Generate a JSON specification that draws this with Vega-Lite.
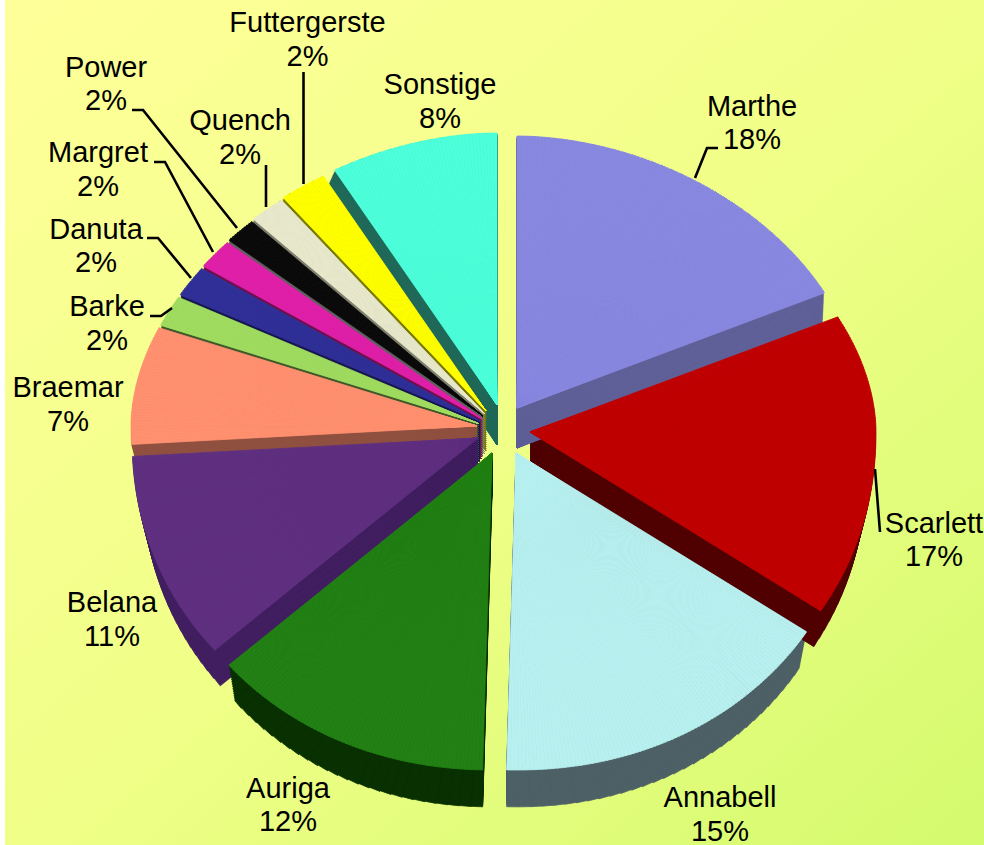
{
"$schema":"https://vega.github.io/schema/vega-lite/v6.json",
"width":979,"height":845,
"autosize":"none",
"padding":{"left":5,"top":0,"right":0,"bottom":0},
"background":"white",
"view":{"stroke":null,"fill":{"gradient":"linear","x1":0,"y1":0,"x2":1,"y2":1,"stops":[{"offset":0,"color":"#ffff99"},{"offset":0.5,"color":"#f0ff88"},{"offset":1,"color":"#d4fa6e"}]}},
"params":[{"name":"geom","value":{
"Marthe":{"x":517,"y":408,"lx":752,"ly":115.5,"leader":[[695,178],[707,148],[718,148]]},
"Scarlett":{"x":530,"y":432,"lx":934,"ly":532.5,"leader":[[875,469],[880,532]]},
"Annabell":{"x":516,"y":453,"lx":720,"ly":807,"leader":[]},
"Auriga":{"x":492,"y":453,"lx":288,"ly":797.5,"leader":[]},
"Belana":{"x":478,"y":438,"lx":112,"ly":612,"leader":[]},
"Braemar":{"x":477,"y":426,"lx":68,"ly":397,"leader":[]},
"Barke":{"x":478.5,"y":423.5,"lx":107,"ly":316,"leader":[[150,316],[161,316],[172,308]]},
"Danuta":{"x":480,"y":421,"lx":96,"ly":238.5,"leader":[[147,238],[158,238],[191,278]]},
"Margret":{"x":481.5,"y":418.5,"lx":98,"ly":162,"leader":[[154,162],[165,162],[213,252]]},
"Power":{"x":483,"y":416,"lx":106,"ly":76.5,"leader":[[132,110],[143,110],[237,228]]},
"Quench":{"x":484.5,"y":413.5,"lx":240,"ly":130,"leader":[[266,165],[266,207]]},
"Futtergerste":{"x":486,"y":411,"lx":307.5,"ly":32,"leader":[[303.5,72],[303.5,184]]},
"Sonstige":{"x":497,"y":405,"lx":440,"ly":94,"leader":[]}
}}],
"data":{"values":[
{"name":"Marthe","share":18},
{"name":"Scarlett","share":17},
{"name":"Annabell","share":15.4},
{"name":"Auriga","share":12.49},
{"name":"Belana","share":11.11},
{"name":"Braemar","share":6.9},
{"name":"Barke","share":1.85},
{"name":"Danuta","share":1.85},
{"name":"Margret","share":1.8},
{"name":"Power","share":1.55},
{"name":"Quench","share":1.75},
{"name":"Futtergerste","share":2.3},
{"name":"Sonstige","share":8}
]},
"transform":[
{"window":[{"op":"sum","field":"share","as":"cum"}]},
{"calculate":"datum.cum-datum.share","as":"start"}
],
"layer":[
{"transform":[
{"calculate":"[0,0.05,0.1,0.15,0.2,0.25,0.3,0.35,0.4,0.45,0.5,0.55,0.6,0.65,0.7,0.75,0.8,0.85,0.9,0.95,1]","as":"f"},
{"flatten":["f"]},
{"calculate":"max(1,ceil(datum.share*(datum.f==0?6:2)))","as":"n"},
{"calculate":"sequence(0,datum.n)","as":"k"},
{"flatten":["k"]},
{"calculate":"2*PI*(datum.start+datum.share*datum.k/datum.n)/100","as":"t0"},
{"calculate":"2*PI*(datum.start+datum.share*(datum.k+1)/datum.n)/100","as":"t1"},
{"calculate":"346*(1-0.03*datum.f)","as":"ea"},
{"calculate":"272*(1+0.1*datum.f)","as":"bt"},
{"calculate":"317*(1-0.01*datum.f)","as":"bb"},
{"calculate":"(datum.t0<=PI?0:2*PI)+atan2(346*sin(datum.t0),(cos(datum.t0)>=0?275:293)*cos(datum.t0))","as":"a0"},
{"calculate":"(datum.t1<=PI?0:2*PI)+atan2(346*sin(datum.t1),(cos(datum.t1)>=0?275:293)*cos(datum.t1))","as":"a1"},
{"calculate":"(datum.a0+datum.a1)/2","as":"am"},
{"calculate":"cos(datum.am)>=0?1.88:2.08","as":"p"},
{"calculate":"pow(pow(abs(sin(datum.am))/datum.ea,datum.p)+pow(abs(cos(datum.am))/(cos(datum.am)>=0?datum.bt:datum.bb),datum.p),-1/datum.p)","as":"r"},
{"calculate":"geom[datum.name].x","as":"cx"},
{"calculate":"geom[datum.name].y+40*datum.f","as":"cy"}
],
"encoding":{
"x":{"field":"cx","type":"quantitative","scale":{"domain":[5,984],"nice":false,"zero":false},"axis":null},
"y":{"field":"cy","type":"quantitative","scale":{"domain":[845,0],"nice":false,"zero":false},"axis":null},
"theta":{"field":"a0","type":"quantitative","stack":false,"scale":{"domain":[0,6.2831853],"range":[0,6.2831853]}},
"theta2":{"field":"a1"},
"radius":{"field":"r","type":"quantitative","scale":{"domain":[0,400],"range":[0,400]}}
},
"layer":[
{"transform":[{"filter":"datum.f>0"}],
"mark":{"type":"arc","strokeWidth":0.8},
"encoding":{
"order":{"field":"cum","sort":"descending"},
"fill":{"field":"name","type":"nominal","legend":null,"scale":{"domain":["Marthe","Scarlett","Annabell","Auriga","Belana","Braemar","Barke","Danuta","Margret","Power","Quench","Futtergerste","Sonstige"],"range":["#606098","#500000","#4d6066","#083000","#401e60","#905040","#405828","#181850","#701050","#606060","#7f7f70","#7a7a00","#206858"]}},
"stroke":{"field":"name","type":"nominal","legend":null,"scale":{"domain":["Marthe","Scarlett","Annabell","Auriga","Belana","Braemar","Barke","Danuta","Margret","Power","Quench","Futtergerste","Sonstige"],"range":["#606098","#500000","#4d6066","#083000","#401e60","#905040","#405828","#181850","#701050","#606060","#7f7f70","#7a7a00","#206858"]}}
}},
{"transform":[{"filter":"datum.f==0"}],
"mark":{"type":"arc","strokeWidth":0.8},
"encoding":{
"fill":{"field":"name","type":"nominal","legend":null,"scale":{"domain":["Marthe","Scarlett","Annabell","Auriga","Belana","Braemar","Barke","Danuta","Margret","Power","Quench","Futtergerste","Sonstige"],"range":["#8888e0","#c00000","#b8f0f0","#228014","#603080","#ff9070","#a0dc60","#303098","#e020a8","#0a0a0a","#e8e8cc","#ffff00","#4dffdb"]}},
"stroke":{"field":"name","type":"nominal","legend":null,"scale":{"domain":["Marthe","Scarlett","Annabell","Auriga","Belana","Braemar","Barke","Danuta","Margret","Power","Quench","Futtergerste","Sonstige"],"range":["#8888e0","#c00000","#b8f0f0","#228014","#603080","#ff9070","#a0dc60","#303098","#e020a8","#0a0a0a","#e8e8cc","#ffff00","#4dffdb"]}}
}}
],
"resolve":{"scale":{"fill":"independent","stroke":"independent"}}
},
{"transform":[
{"calculate":"geom[datum.name].leader","as":"pts"},
{"calculate":"sequence(0,length(datum.pts))","as":"i"},
{"flatten":["pts","i"]},
{"calculate":"datum.pts[0]","as":"lx"},
{"calculate":"datum.pts[1]","as":"ly"}
],
"mark":{"type":"line","color":"#000000","strokeWidth":2.6,"strokeJoin":"miter"},
"encoding":{
"x":{"field":"lx","type":"quantitative"},
"y":{"field":"ly","type":"quantitative"},
"detail":{"field":"name"},
"order":{"field":"i"}
}},
{"transform":[
{"calculate":"geom[datum.name].lx","as":"tx"},
{"calculate":"geom[datum.name].ly","as":"ty"},
{"calculate":"datum.name+'\\n'+round(datum.share)+'%'","as":"label"}
],
"mark":{"type":"text","font":"Liberation Sans","fontSize":29,"lineBreak":"\n","lineHeight":33.5,"align":"center","baseline":"alphabetic","color":"#000000"},
"encoding":{
"x":{"field":"tx","type":"quantitative"},
"y":{"field":"ty","type":"quantitative"},
"text":{"field":"label"}
}}
]
}
